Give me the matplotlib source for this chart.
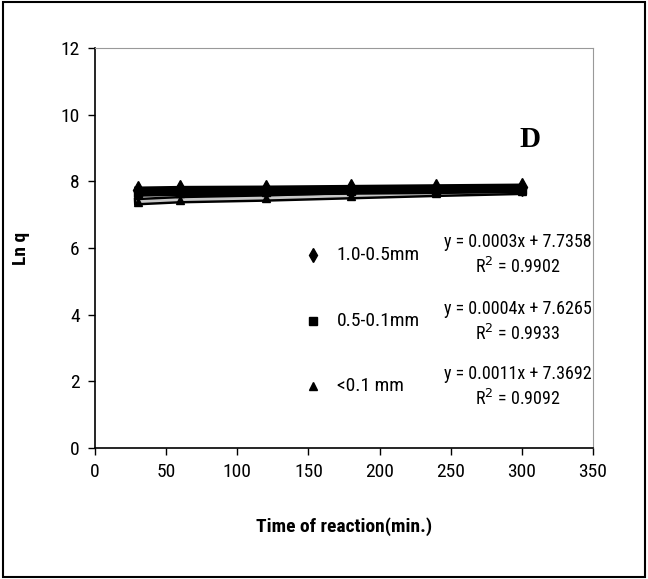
import matplotlib
matplotlib.use("Agg")
import matplotlib.pyplot as plt
import matplotlib.patheffects as pe
from matplotlib.patches import Rectangle

NARROW = ["Liberation Sans Narrow", "Roboto Condensed", "DejaVu Sans"]

time_min = [30, 60, 120, 180, 240, 300]
lnq_coarse = [7.74, 7.76, 7.77, 7.79, 7.81, 7.83]   # 1.0-0.5mm
lnq_medium = [7.64, 7.66, 7.67, 7.70, 7.72, 7.75]   # 0.5-0.1mm
lnq_fine = [7.39, 7.45, 7.50, 7.57, 7.64, 7.70]     # <0.1 mm

labels = ["1.0-0.5mm", "0.5-0.1mm", "<0.1 mm"]
equations = ["y = 0.0003x + 7.7358", "y = 0.0004x + 7.6265", "y = 0.0011x + 7.3692"]
r2_values = ["0.9902", "0.9933", "0.9092"]
markers = ["d", "s", "^"]

fig = plt.figure(figsize=(6.48, 5.79), dpi=100)
fig.patches.append(Rectangle((0.004, 0.004), 0.992, 0.992, transform=fig.transFigure,
                             fill=False, edgecolor="black", lw=1.5))
ax = fig.add_axes([0.1466, 0.2263, 0.7685, 0.6908])

# series lines: two heavy black, the fine fraction as a grey line with black rim
ax.plot(time_min, lnq_fine, color="#c8c8c8", lw=2, zorder=2,
        path_effects=[pe.Stroke(linewidth=5.5, foreground="black"), pe.Normal()])
ax.plot(time_min, lnq_fine, ls="none", marker="^", ms=6, color="black", zorder=2)
ax.plot(time_min, lnq_medium, color="black", lw=5, marker="s", ms=6, zorder=3)
ax.plot(time_min, lnq_coarse, color="black", lw=5, marker="d", ms=9, zorder=3)

ax.set_xlim(0, 350)
ax.set_ylim(0, 12)
ax.set_xticks(range(0, 351, 50))
ax.set_yticks(range(0, 13, 2))
for lab in ax.get_xticklabels() + ax.get_yticklabels():
    lab.set_family(NARROW)
    lab.set_fontsize(14)
ax.tick_params(direction="out", length=5, width=1, colors="black", pad=6)
ax.spines["left"].set_linewidth(1.2)
ax.spines["bottom"].set_linewidth(1.2)
ax.spines["top"].set_color("#999999")
ax.spines["right"].set_color("#999999")

ax.set_xlabel("Time of reaction(min.)", family=NARROW, fontsize=14, fontweight="bold", labelpad=26)
ax.set_ylabel("Ln q", family=NARROW, fontsize=14, fontweight="bold", labelpad=22)

ax.text(306, 9.25, "D", family=["Liberation Serif", "DejaVu Serif"], fontsize=21,
        fontweight="bold", ha="center", va="center")

# legend + trendline equations
leg_y = [5.8, 3.8, 1.85]
for i in range(3):
    ax.plot([153], [leg_y[i]], marker=markers[i], color="black", ms=7 if i == 0 else 6, ls="none")
    ax.text(170, leg_y[i], labels[i], family=NARROW, fontsize=14, va="center")
    ax.text(297, leg_y[i] + 0.37, equations[i], family=NARROW, fontsize=13, ha="center", va="center")
    ax.text(297, leg_y[i] - 0.37, f"R$^2$ = {r2_values[i]}", family=NARROW, fontsize=13,
            ha="center", va="center")

fig.savefig("out.png", dpi=100)
